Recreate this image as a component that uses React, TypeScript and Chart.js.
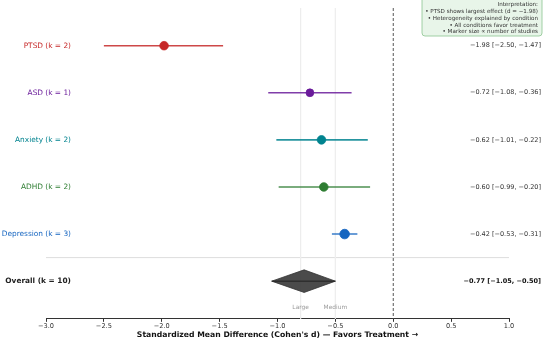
import React, { useEffect, useRef } from "react";
import { Chart, registerables } from "chart.js";

Chart.register(...registerables);

const studyLabels = ["PTSD (k = 2)", "ASD (k = 1)", "Anxiety (k = 2)", "ADHD (k = 2)", "Depression (k = 3)"];
const estimates = [-1.98, -0.72, -0.62, -0.6, -0.42];
const lowerCI = [-2.5, -1.08, -1.01, -0.99, -0.53];
const upperCI = [-1.47, -0.36, -0.22, -0.2, -0.31];
const studyCounts = [2, 1, 2, 2, 3];
const markerRadii = [4.3, 3.9, 4.3, 4.3, 4.8];
const colors = ["#C62828", "#6A1B9A", "#00838F", "#2E7D32", "#1565C0"];

const overallLabel = "Overall (k = 10)";
const overallEstimate = -0.77;
const overallLower = -1.05;
const overallUpper = -0.5;

const xTicks = [-3.0, -2.5, -2.0, -1.5, -1.0, -0.5, 0.0, 0.5, 1.0];
const thresholds = [-0.8, -0.5];
const thresholdLabels = ["Large", "Medium"];
const annotationLines = [
  "Interpretation:",
  "• PTSD shows largest effect (d = −1.98)",
  "• Heterogeneity explained by condition",
  "• All conditions favor treatment",
  "• Marker size ∝ number of studies",
];

const FONT = "'DejaVu Sans', sans-serif";
const fmt = (v: number) => (v < 0 ? "−" : "") + Math.abs(v).toFixed(2);
const ciText = (e: number, l: number, u: number) => `${fmt(e)} [${fmt(l)}, ${fmt(u)}]`;

const Y_MIN = -0.8;
const Y_MAX = 5.8;
const OVERALL_ROW = studyLabels.length;
const SEPARATOR_ROW = OVERALL_ROW - 0.5;
const DIAMOND_HALF = 0.24;

function hexA(hex: string, a: number) {
  const n = parseInt(hex.slice(1), 16);
  return `rgba(${(n >> 16) & 255},${(n >> 8) & 255},${n & 255},${a})`;
}

const textPlugin = {
  id: "forestText",
  afterDatasetsDraw(chart: any) {
    const ctx = chart.ctx as CanvasRenderingContext2D;
    const xs = chart.scales.x;
    const ys = chart.scales.y;
    ctx.save();
    ctx.textBaseline = "middle";
    ctx.textAlign = "right";
    studyLabels.forEach((lab, i) => {
      ctx.font = `7.4px ${FONT}`;
      ctx.fillStyle = colors[i];
      ctx.fillText(lab, 71, ys.getPixelForValue(i));
    });
    ctx.font = `bold 7.4px ${FONT}`;
    ctx.fillStyle = "#222";
    ctx.fillText(overallLabel, 71, ys.getPixelForValue(OVERALL_ROW));
    studyLabels.forEach((_, i) => {
      ctx.font = `6.5px ${FONT}`;
      ctx.fillStyle = "#333";
      ctx.fillText(ciText(estimates[i], lowerCI[i], upperCI[i]), 541, ys.getPixelForValue(i));
    });
    ctx.font = `bold 6.5px ${FONT}`;
    ctx.fillStyle = "#111";
    ctx.fillText(ciText(overallEstimate, overallLower, overallUpper), 541, ys.getPixelForValue(OVERALL_ROW));
    ctx.textAlign = "center";
    ctx.font = `5.9px ${FONT}`;
    ctx.fillStyle = "#999";
    thresholds.forEach((t, i) => {
      ctx.fillText(thresholdLabels[i], xs.getPixelForValue(t), ys.getPixelForValue(5.55));
    });
    const bx = 422, by = -4, bw = 120, bh = 40;
    ctx.fillStyle = "#E8F5E9";
    ctx.strokeStyle = "#8BC48F";
    ctx.lineWidth = 0.8;
    ctx.beginPath();
    (ctx as any).roundRect(bx, by, bw, bh, 3);
    ctx.fill();
    ctx.stroke();
    ctx.textAlign = "right";
    ctx.font = `5.6px ${FONT}`;
    ctx.fillStyle = "#333";
    annotationLines.forEach((line, i) => {
      ctx.fillText(line, 538, 5 + i * 6.7);
    });
    ctx.restore();
  },
};

export default function App() {
  const ref = useRef<HTMLCanvasElement>(null);
  useEffect(() => {
    if (!ref.current) return;
    const datasets: any[] = [];
    datasets.push({
      type: "scatter",
      data: estimates.map((e, i) => ({ x: e, y: i })),
      pointRadius: markerRadii,
      pointBackgroundColor: colors,
      pointBorderColor: colors.map((c) => c),
      pointBorderWidth: 0.8,
      order: 0,
    });
    studyLabels.forEach((_, i) => {
      datasets.push({
        type: "scatter",
        showLine: true,
        data: [
          { x: lowerCI[i], y: i },
          { x: upperCI[i], y: i },
        ],
        borderColor: hexA(colors[i], 0.85),
        borderWidth: 1.6,
        pointRadius: 0,
        order: 1,
      });
    });
    datasets.push({
      type: "scatter",
      showLine: true,
      data: [
        { x: overallLower, y: OVERALL_ROW },
        { x: overallEstimate, y: OVERALL_ROW - DIAMOND_HALF },
        { x: overallUpper, y: OVERALL_ROW },
        { x: overallEstimate, y: OVERALL_ROW + DIAMOND_HALF },
        { x: overallLower, y: OVERALL_ROW },
      ],
      borderColor: "#333",
      borderWidth: 0.8,
      backgroundColor: "rgba(60,60,60,0.92)",
      fill: "shape",
      pointRadius: 0,
      order: 1,
    });
    datasets.push({
      type: "scatter",
      showLine: true,
      data: [
        { x: overallLower, y: OVERALL_ROW },
        { x: overallUpper, y: OVERALL_ROW },
      ],
      borderColor: "#222",
      borderWidth: 1,
      pointRadius: 0,
      order: 0,
    });
    thresholds.forEach((t) => {
      datasets.push({
        type: "scatter",
        showLine: true,
        data: [
          { x: t, y: Y_MIN },
          { x: t, y: Y_MAX },
        ],
        borderColor: "#EEEEEE",
        borderWidth: 1,
        pointRadius: 0,
        order: 5,
      });
    });
    datasets.push({
      type: "scatter",
      showLine: true,
      data: [
        { x: -3, y: SEPARATOR_ROW },
        { x: 1, y: SEPARATOR_ROW },
      ],
      borderColor: "#DDDDDD",
      borderWidth: 1,
      pointRadius: 0,
      order: 5,
    });
    datasets.push({
      type: "scatter",
      showLine: true,
      data: [
        { x: 0, y: Y_MIN },
        { x: 0, y: Y_MAX },
      ],
      borderColor: "#555",
      borderWidth: 1,
      borderDash: [3, 2],
      pointRadius: 0,
      order: 4,
    });

    const chart = new Chart(ref.current, {
      type: "scatter",
      data: { datasets },
      options: {
        animation: false,
        responsive: false,
        layout: { padding: { left: 46, right: 41, top: 8, bottom: 1 } },
        plugins: { legend: { display: false }, tooltip: { enabled: false } },
        scales: {
          x: {
            type: "linear",
            min: -3,
            max: 1,
            afterBuildTicks: (axis: any) => {
              axis.ticks = xTicks.map((v) => ({ value: v }));
            },
            ticks: {
              font: { family: FONT, size: 6.6 },
              color: "#333",
              padding: 0,
              maxRotation: 0,
              callback: (v: any) => (Number(v) < 0 ? "−" : "") + Math.abs(Number(v)).toFixed(1),
            },
            grid: { display: true, drawOnChartArea: false, drawTicks: true, tickLength: 3, color: "#333" },
            border: { display: true, color: "#333", width: 1 },
            title: {
              display: true,
              text: "Standardized Mean Difference (Cohen's d) — Favors Treatment →",
              font: { family: FONT, size: 7.7, weight: "bold" },
              color: "#111",
              padding: { top: 1, bottom: 3 },
            },
          },
          y: {
            type: "linear",
            display: false,
            min: Y_MIN,
            max: Y_MAX,
            reverse: true,
          },
        },
      },
      plugins: [textPlugin],
    });
    return () => chart.destroy();
  }, []);
  return (
    <div style={{ position: "fixed", left: 0, top: 0, width: 550, height: 344, background: "#fff" }}>
      <canvas ref={ref} width={550} height={344} style={{ display: "block" }} />
    </div>
  );
}
